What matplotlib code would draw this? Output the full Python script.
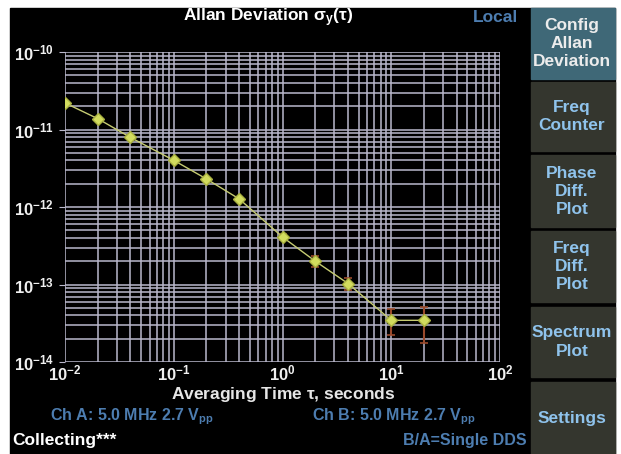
import matplotlib
matplotlib.use("Agg")
import matplotlib.pyplot as plt
from matplotlib.patches import Rectangle
from matplotlib.ticker import LogLocator, NullFormatter

plt.rcParams['font.family'] = ['Liberation Sans', 'DejaVu Sans']
plt.rcParams['mathtext.default'] = 'regular'

# averaging time (s) and Allan deviation
tau = [0.01, 0.02, 0.04, 0.1, 0.2, 0.4, 1, 2, 4, 10, 20]
adev = [2.2e-11, 1.38e-11, 7.9e-12, 4.0e-12, 2.3e-12, 1.27e-12,
        4.1e-13, 2.0e-13, 1.03e-13, 3.45e-14, 3.45e-14]
upper = [2.3e-11, 1.44e-11, 8.3e-12, 4.2e-12, 2.42e-12, 1.36e-12,
         4.5e-13, 2.3e-13, 1.2e-13, 4.9e-14, 5.2e-14]
lower = [2.1e-11, 1.32e-11, 7.5e-12, 3.8e-12, 2.18e-12, 1.18e-12,
         3.7e-13, 1.7e-13, 0.85e-13, 2.2e-14, 1.75e-14]

xticks = [1e-2, 1e-1, 1e0, 1e1, 1e2]
xticklabels = [r'$10^{-2}$', r'$10^{-1}$', r'$10^{0}$', r'$10^{1}$', r'$10^{2}$']
yticks = [1e-14, 1e-13, 1e-12, 1e-11, 1e-10]
yticklabels = [r'$10^{-14}$', r'$10^{-13}$', r'$10^{-12}$', r'$10^{-11}$', r'$10^{-10}$']

buttons = ['Config\nAllan\nDeviation', 'Freq\nCounter', 'Phase\nDiff.\nPlot',
           'Freq\nDiff.\nPlot', 'Spectrum\nPlot', 'Settings']

W, H = 621, 454
fig = plt.figure(figsize=(W / 100, H / 100), dpi=100, facecolor='white')

# screen background + button panel, drawn in pixel coords
bg = fig.add_axes([0, 0, 1, 1], zorder=0)
bg.set_xlim(0, W)
bg.set_ylim(H, 0)
bg.axis('off')
bg.add_patch(Rectangle((10, 8), 605, H - 8, color='black'))

btn_y = [(8, 79), (82, 151), (155, 227), (231, 302), (307, 377), (382, 454)]
for i, (lab, (y0, y1)) in enumerate(zip(buttons, btn_y)):
    fc = '#3f6877' if i == 0 else '#34362e'
    tc = '#ececec' if i == 0 else '#8fc3ec'
    bg.add_patch(Rectangle((531, y0), 84, y1 - y0, color=fc))
    bg.text(572, (y0 + y1) / 2, lab, color=tc, fontsize=12.5, fontweight='bold',
            ha='center', va='center', linespacing=1.25)

blue = '#4d7db0'
bg.text(268, 18, r'Allan Deviation $\sigma_y(\tau)$', color='white', fontsize=12.5,
        fontweight='bold', ha='center', va='center')
bg.text(518, 18, 'Local', color=blue, fontsize=12.5, fontweight='bold',
        ha='right', va='center')
bg.text(283, 395, r'Averaging Time $\tau$, seconds', color='#e6e6e6', fontsize=12.5,
        fontweight='bold', ha='center', va='center')
bg.text(50, 417, r'Ch A: 5.0 MHz 2.7 V$_{pp}$', color=blue, fontsize=11.5,
        fontweight='bold', ha='left', va='center')
bg.text(312, 417, r'Ch B: 5.0 MHz 2.7 V$_{pp}$', color=blue, fontsize=11.5,
        fontweight='bold', ha='left', va='center')
bg.text(12, 441, 'Collecting***', color='white', fontsize=12.5,
        fontweight='bold', ha='left', va='center')
bg.text(527, 441, 'B/A=Single DDS', color=blue, fontsize=11.5,
        fontweight='bold', ha='right', va='center')

# plot area
ax = fig.add_axes([65 / W, 1 - 362 / H, 435 / W, 310 / H], zorder=1)
ax.set_facecolor('black')
ax.set_xscale('log')
ax.set_yscale('log')
ax.set_xlim(1e-2, 1e2)
ax.set_ylim(1e-14, 1e-10)

for s in ax.spines.values():
    s.set_visible(False)

ax.xaxis.set_minor_locator(LogLocator(base=10, subs=range(2, 10)))
ax.yaxis.set_minor_locator(LogLocator(base=10, subs=range(2, 10)))
ax.xaxis.set_minor_formatter(NullFormatter())
ax.yaxis.set_minor_formatter(NullFormatter())
ax.grid(True, which='both', color='#bab8cc', linewidth=1.1)
ax.set_axisbelow(True)

ax.set_xticks(xticks)
ax.set_xticklabels(xticklabels)
ax.set_yticks(yticks)
ax.set_yticklabels(yticklabels)
ax.tick_params(which='both', colors='#bab8cc', labelcolor='#f0f0f0', labelsize=12)
ax.tick_params(axis='x', which='both', length=0, pad=1)
ax.tick_params(axis='y', which='major', length=4, pad=4)
ax.tick_params(axis='y', which='minor', length=0)
for t in ax.get_xticklabels() + ax.get_yticklabels():
    t.set_fontweight('bold')

yerr = [[a - l for a, l in zip(adev, lower)], [u - a for a, u in zip(adev, upper)]]
ax.errorbar(tau, adev, yerr=yerr, fmt='none', ecolor='#9a4a2c', elinewidth=1.5,
            capsize=3, capthick=1.2, zorder=3)
ax.plot(tau, adev, color='#c6cc72', linewidth=1, zorder=4)
ax.plot(tau, adev, linestyle='none', marker='D', markersize=6,
        markerfacecolor='#d2dc5e', markeredgecolor='#a8b040', zorder=5)

fig.savefig('out.png', dpi=100, facecolor='white')
